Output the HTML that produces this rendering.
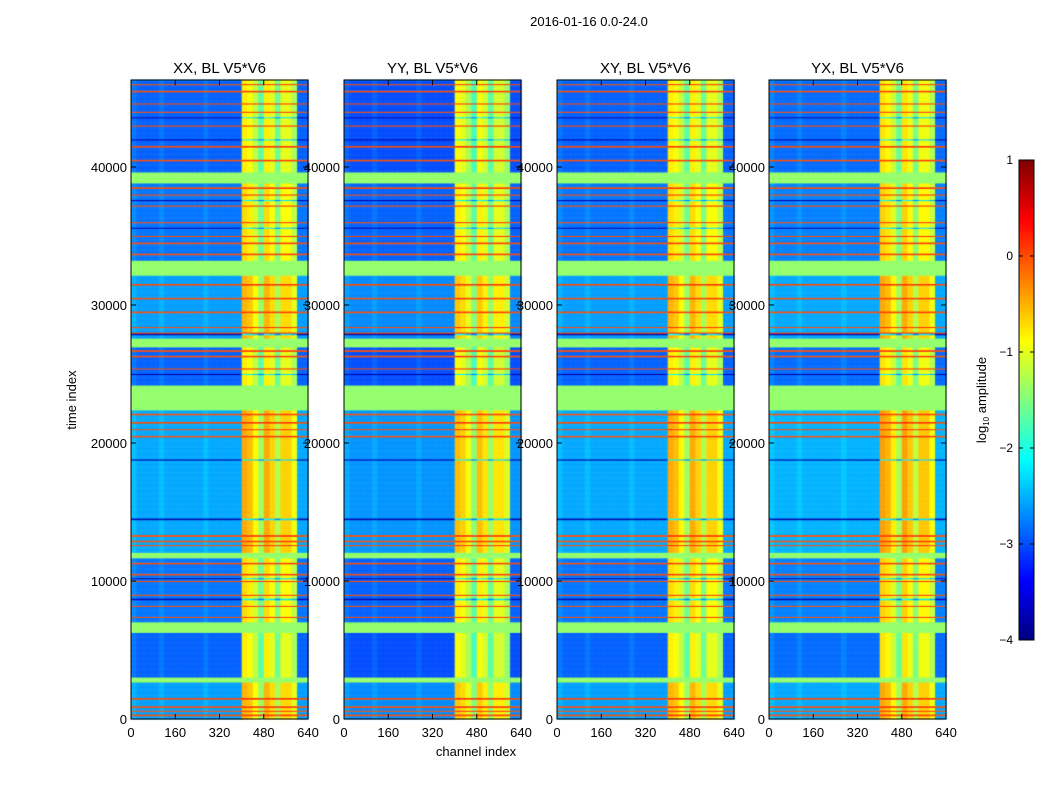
<!DOCTYPE html>
<html><head><meta charset="utf-8"><style>
body{margin:0;background:#fff;width:1050px;height:800px;overflow:hidden;font-family:"Liberation Sans",sans-serif;}
#wrap{position:relative;width:1050px;height:800px;}
canvas{position:absolute;left:0;top:0;}
svg{position:absolute;left:0;top:0;}
</style></head><body>
<div id="wrap">
<canvas id="cv" width="1050" height="800"></canvas>
<svg id="sv" width="1050" height="800"></svg>
</div>
<script>
// ---- data ----
const panelTitles = ["XX, BL V5*V6","YY, BL V5*V6","XY, BL V5*V6","YX, BL V5*V6"];
const panelOffsets = [0.0, -0.1, 0.0, 0.05];
const xTicks = [0,160,320,480,640];
const yTicks = [0,10000,20000,30000,40000];
const cbTicks = [1,0,-1,-2,-3,-4];
// channel profile per 20-channel column (added to background level)
const channelOffset = [0.1,0,0,0,0,0.1,0,0,0,0,0,0,0,0.1,0,0,0,0,0,0,
  2.1,2.0,1.7,1.2,2.1,1.9,1.3,1.9,1.9,1.6,0.0,0.0];
// background segments [tStart, tEnd, level]
const bgSegments = [[0,2700,-2.6],[2700,6300,-2.9],[6300,11700,-2.8],[11700,22400,-2.55],
  [22400,27000,-2.9],[27000,32200,-2.6],[32200,38900,-2.8],[38900,46300,-2.9]];
// flagged (uniform) bands [tStart, tEnd]
const flaggedBands = [[2680,3040],[6300,7030],[11670,12100],[22390,24200],[26960,27610],[32170,33260],[38840,39640]];
const flaggedLevel = -1.4;
// bright (red/orange) horizontal lines at time t
const redLines = [300,600,900,1500,7400,8200,9000,10000,10500,11300,12600,12900,13300,20500,21000,21500,22100,
  25400,26300,26700,28000,28400,29500,30500,31500,33700,34500,35000,36000,37200,38000,38500,40500,41500,43000,44000,44600,45500,46000];
const redLevel = 0.0;
// dark navy lines
const darkLines = [8700,10200,14500,18800,25000,27900,35600,37600,42000,43600];
const darkLevel = -3.8;

// ---- layout ----
const panelsX = [131,344,557,769];
const panelW = 177, yTop = 80, yBot = 719, tMax = 46300, chMax = 640;
const cbX = 1019, cbW = 15, cbTop = 160, cbBot = 640;
function xScale(p, ch){ return panelsX[p] + ch / chMax * panelW; }
function yScale(t){ return yBot - t / tMax * (yBot - yTop); }
function cbScale(v){ return cbBot - (v + 4) / 5 * (cbBot - cbTop); }

function jet(v){
  let f = Math.max(0, Math.min(1, (v + 4) / 5));
  const c = x => Math.max(0, Math.min(1, x));
  const r = c(1.5 - Math.abs(4*f - 3)), g = c(1.5 - Math.abs(4*f - 2)), b = c(1.5 - Math.abs(4*f - 1));
  return `rgb(${Math.round(r*255)},${Math.round(g*255)},${Math.round(b*255)})`;
}
function valueAt(t, ci, p){
  for (const fb of flaggedBands) if (t >= fb[0] && t < fb[1]) return flaggedLevel;
  const off = channelOffset[ci];
  for (const rl of redLines) if (Math.abs(t - rl) < 60) return redLevel + (off > 1 ? 0.1 : 0);
  for (const dl of darkLines) if (Math.abs(t - dl) < 50) return darkLevel + off*0.8;
  let lvl = -2.7;
  for (const s of bgSegments) if (t >= s[0] && t < s[1]) lvl = s[2];
  return lvl + off + panelOffsets[p];
}

const ctx = document.getElementById('cv').getContext('2d');
const step = 40;
for (let p = 0; p < 4; p++){
  for (let t = 0; t < tMax; t += step){
    const y0 = yScale(t + step), y1 = yScale(t);
    for (let ci = 0; ci < channelOffset.length; ci++){
      const x0 = xScale(p, ci*20), x1 = xScale(p, (ci+1)*20);
      ctx.fillStyle = jet(valueAt(t + step/2, ci, p));
      ctx.fillRect(x0, y0, x1 - x0 + 0.5, y1 - y0 + 0.5);
    }
  }
}
// colorbar gradient
for (let y = cbTop; y < cbBot; y++){
  const v = -4 + (cbBot - y) / (cbBot - cbTop) * 5;
  ctx.fillStyle = jet(v);
  ctx.fillRect(cbX, y, cbW, 1);
}

// ---- axes in svg ----
const sv = document.getElementById('sv');
const NS = "http://www.w3.org/2000/svg";
function mk(tag, attrs, txt){
  const e = document.createElementNS(NS, tag);
  for (const k in attrs) e.setAttribute(k, attrs[k]);
  if (txt !== undefined) e.textContent = txt;
  sv.appendChild(e); return e;
}
let el = mk('text',{x:589,y:26,'text-anchor':'middle','font-size':13,fill:'#000'},'2016-01-16 0.0-24.0');


for (let p = 0; p < 4; p++){
  const x0 = panelsX[p], x1 = panelsX[p] + panelW;
  el = mk('rect',{x:x0,y:yTop,width:panelW,height:yBot-yTop,fill:'none',stroke:'#000','stroke-width':1});
  
  
  el = mk('text',{x:(x0+x1)/2,y:73,'text-anchor':'middle','font-size':15,fill:'#000'},panelTitles[p]);
  
  
  for (const xt of xTicks){
    const x = xScale(p, xt);
    mk('line',{x1:x,x2:x,y1:yBot,y2:yBot-5,stroke:'#000'});
    mk('line',{x1:x,x2:x,y1:yTop,y2:yTop+5,stroke:'#000'});
    el = mk('text',{x:x,y:737,'text-anchor':'middle','font-size':13,fill:'#000'},String(xt));
    
    
  }
  for (const yt of yTicks){
    const y = yScale(yt);
    mk('line',{x1:x0,x2:x0+5,y1:y,y2:y,stroke:'#000'});
    mk('line',{x1:x1,x2:x1-5,y1:y,y2:y,stroke:'#000'});
    el = mk('text',{x:x0-4,y:y+5,'text-anchor':'end','font-size':13,fill:'#000'},String(yt));
    
    
  }
}
el = mk('text',{x:476,y:756,'text-anchor':'middle','font-size':13,fill:'#000'},'channel index');


el = mk('text',{x:0,y:0,'text-anchor':'middle','font-size':13,fill:'#000',transform:'translate(76,400) rotate(-90)'},'time index');


el = mk('rect',{x:cbX,y:cbTop,width:cbW,height:cbBot-cbTop,fill:'none',stroke:'#000'});


for (const v of cbTicks){
  const y = cbScale(v);
  mk('line',{x1:cbX,x2:cbX+4,y1:y,y2:y,stroke:'#000'});
  mk('line',{x1:cbX+cbW,x2:cbX+cbW-4,y1:y,y2:y,stroke:'#000'});
  el = mk('text',{x:1013,y:y+4,'text-anchor':'end','font-size':12,fill:'#000'},v<0?'\u2212'+(-v):String(v));
  
  
}
const g = mk('text',{x:0,y:0,'text-anchor':'middle','font-size':13,fill:'#000',transform:'translate(986,400) rotate(-90)'});


g.innerHTML = 'log<tspan font-size="8" dy="3">10</tspan><tspan dy="-3"> amplitude</tspan>';
</script>
</body></html>
